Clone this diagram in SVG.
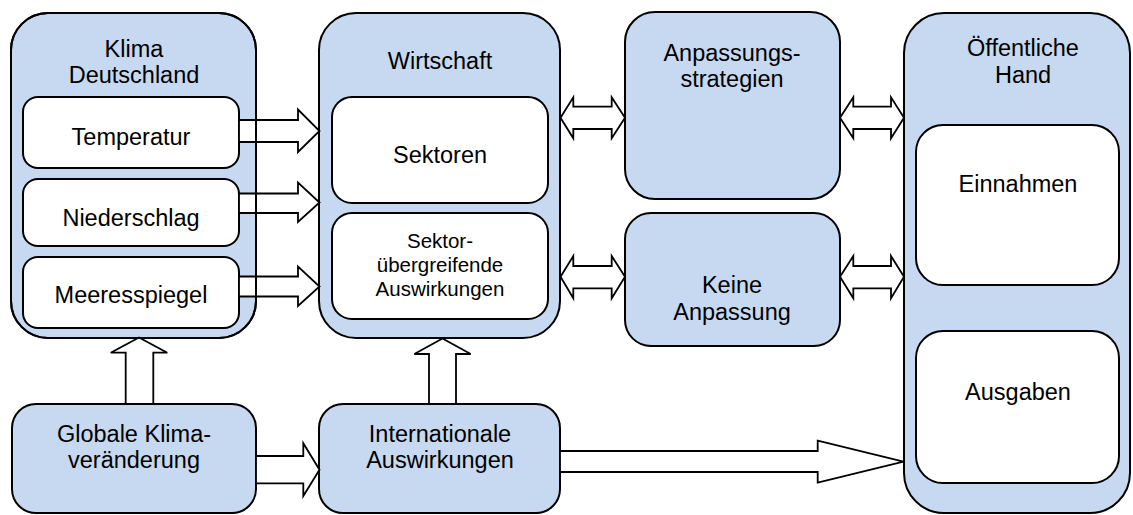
<svg xmlns="http://www.w3.org/2000/svg" xmlns:xlink="http://www.w3.org/1999/xlink" width="1133" height="515" viewBox="0 0 1133 515">
  <style>
    .outer { fill: #C6D9F1; stroke: #000; stroke-width: 2; }
    .inner { fill: #FFFFFF; stroke: #000; stroke-width: 2; }
    .frame { fill: none; stroke: #000; stroke-width: 2; }
    .arrow { fill: #FFFFFF; stroke: #000; stroke-width: 1.8; stroke-linejoin: miter; }
    text { font-family: "Liberation Sans", Arial, sans-serif; font-size: 23.5px; fill: #000; text-anchor: middle; }
    .small { font-size: 20.5px; }
  </style>
  <defs>
    <rect id="klima-frame" x="11" y="13" width="245" height="325" rx="37" ry="37"/>
  </defs>
  <rect width="1133" height="515" fill="#FFFFFF"/>

  <!-- Klima Deutschland -->
  <g id="klima">
    <use xlink:href="#klima-frame" class="outer"/>
    <text x="134" y="57">Klima</text>
    <text x="134" y="83">Deutschland</text>
  </g>
  <g id="temperatur">
    <rect class="inner" x="23" y="97" width="216" height="71" rx="15" ry="15"/>
    <text x="131" y="145">Temperatur</text>
  </g>
  <g id="niederschlag">
    <rect class="inner" x="23" y="179" width="216" height="67" rx="15" ry="15"/>
    <text x="131" y="226">Niederschlag</text>
  </g>
  <g id="meeresspiegel">
    <rect class="inner" x="23" y="257" width="216" height="71" rx="15" ry="15"/>
    <text x="131" y="303">Meeresspiegel</text>
  </g>

  <!-- Wirtschaft -->
  <g id="wirtschaft">
    <rect class="outer" x="319" y="13" width="241" height="325" rx="37" ry="37"/>
    <text x="440" y="69">Wirtschaft</text>
  </g>
  <g id="sektoren">
    <rect class="inner" x="332" y="97" width="216" height="106" rx="20" ry="20"/>
    <text x="440" y="163">Sektoren</text>
  </g>
  <g id="sektoruebergreifend">
    <rect class="inner" x="332" y="213" width="216" height="106" rx="20" ry="20"/>
    <text class="small" x="440" y="248">Sektor-</text>
    <text class="small" x="440" y="272">übergreifende</text>
    <text class="small" x="440" y="296">Auswirkungen</text>
  </g>

  <!-- Anpassung -->
  <g id="anpassungsstrategien">
    <rect class="outer" x="625" y="12" width="215" height="187" rx="30" ry="30"/>
    <text x="732" y="61">Anpassungs-</text>
    <text x="732" y="87">strategien</text>
  </g>
  <g id="keine-anpassung">
    <rect class="outer" x="625" y="213" width="215" height="133" rx="26" ry="26"/>
    <text x="732" y="293">Keine</text>
    <text x="732" y="320">Anpassung</text>
  </g>

  <!-- Öffentliche Hand -->
  <g id="oeffentliche-hand">
    <rect class="outer" x="904" y="13" width="226" height="500" rx="40" ry="40"/>
    <text x="1023" y="56">Öffentliche</text>
    <text x="1023" y="83">Hand</text>
  </g>
  <g id="einnahmen">
    <rect class="inner" x="916" y="125" width="203" height="160" rx="27" ry="27"/>
    <text x="1018" y="192">Einnahmen</text>
  </g>
  <g id="ausgaben">
    <rect class="inner" x="916" y="331" width="203" height="152" rx="27" ry="27"/>
    <text x="1018" y="400">Ausgaben</text>
  </g>

  <!-- Globale / Internationale -->
  <g id="globale-klimaveraenderung">
    <rect class="outer" x="12" y="404" width="244" height="109" rx="24" ry="24"/>
    <text x="134" y="442">Globale Klima-</text>
    <text x="134" y="468">veränderung</text>
  </g>
  <g id="internationale-auswirkungen">
    <rect class="outer" x="319" y="404" width="241" height="109" rx="24" ry="24"/>
    <text x="440" y="442">Internationale</text>
    <text x="440" y="468">Auswirkungen</text>
  </g>

  <!-- Block arrows -->
  <g id="connectors">
    <!-- climate parameters to economy -->
    <polygon class="arrow" points="239,120 298,120 298,109.5 319.5,131 298,152 298,142 239,142"/>
    <polygon class="arrow" points="239,193.5 298,193.5 298,182.5 319.5,202.5 298,222 298,213 239,213"/>
    <polygon class="arrow" points="239,276.5 298,276.5 298,266.5 319.5,286.5 298,306 298,296.5 239,296.5"/>

    <!-- two-way arrows economy / adaptation / public sector -->
    <polygon class="arrow" points="560.5,117.7 573.3,97.3 573.3,106.7 611.7,106.7 611.7,97.3 625,117.7 611.7,138.3 611.7,129 573.3,129 573.3,138.3"/>
    <polygon class="arrow" points="560.5,276.7 573.3,256 573.3,266 611.7,266 611.7,256 625,276.7 611.7,298.3 611.7,288.3 573.3,288.3 573.3,298.3"/>
    <polygon class="arrow" points="840,117.7 853.3,97.3 853.3,106.7 891,106.7 891,97.3 904,117.7 891,138.3 891,129 853.3,129 853.3,138.3"/>
    <polygon class="arrow" points="840,276.7 853.3,256 853.3,266 891,266 891,256 904,276.7 891,298.3 891,288.3 853.3,288.3 853.3,298.3"/>

    <!-- global change upwards -->
    <polygon class="arrow" points="125.7,404 125.7,352.7 110.7,352.7 139,337.5 167.3,352.7 153.3,352.7 153.3,404"/>
    <polygon class="arrow" points="429,404 429,354 414.3,354 442.5,338.5 470.7,354 456,354 456,404"/>

    <!-- global change to international effects -->
    <polygon class="arrow" points="256,456 303.3,456 303.3,443.3 319.5,469.7 303.3,496 303.3,483.3 256,483.3"/>

    <!-- international effects to public sector -->
    <polygon class="arrow" points="560,451 817.7,451 817.7,440.7 903.5,461.7 817.7,482.7 817.7,472 560,472"/>
  </g>

  <!-- outline of the climate frame stays visible across the arrow shafts -->
  <use xlink:href="#klima-frame" class="frame"/>
</svg>
